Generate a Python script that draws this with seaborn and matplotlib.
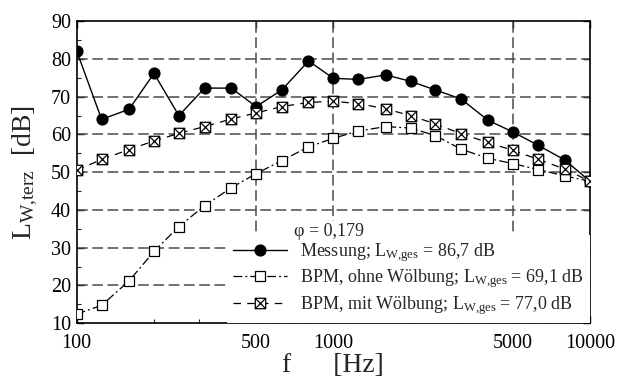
import numpy as np
import pandas as pd
import matplotlib
matplotlib.use("Agg")
import matplotlib.pyplot as plt
import seaborn as sns
from matplotlib.path import Path
from matplotlib.ticker import FixedLocator, NullFormatter, LogLocator

freq = [100, 125, 160, 200, 250, 315, 400, 500, 630, 800, 1000,
        1250, 1600, 2000, 2500, 3150, 4000, 5000, 6300, 8000, 10000]
messung = [82.1, 64.0, 66.7, 76.2, 65.0, 72.3, 72.3, 67.4, 71.8, 79.5, 74.9,
           74.6, 75.8, 74.1, 71.8, 69.4, 63.8, 60.7, 57.1, 53.2, 47.6]
bpm_ohne = [12.4, 14.7, 21.2, 29.0, 35.6, 41.1, 45.9, 49.6, 53.1, 56.7, 59.0,
            60.9, 62.1, 61.7, 59.7, 56.1, 53.7, 52.3, 50.7, 49.0, 47.6]
bpm_mit = [50.5, 53.4, 56.0, 58.3, 60.3, 62.1, 64.1, 65.7, 67.4, 68.5, 68.8,
           68.2, 66.8, 65.0, 62.8, 60.2, 57.9, 55.8, 53.4, 50.8, 47.6]

labels = [r"Messung; L$_{\mathregular{W{,}ges}}$ = 86,7 dB",
          r"BPM, ohne Wölbung; L$_{\mathregular{W{,}ges}}$ = 69,1 dB",
          r"BPM, mit Wölbung; L$_{\mathregular{W{,}ges}}$ = 77,0 dB"]
phi_text = "φ = 0,179"
xticks = [100, 500, 1000, 5000, 10000]
xticklabels = ["100", "500", "1000", "5000", "10000"]
yticks = [10, 20, 30, 40, 50, 60, 70, 80, 90]
xgrid = [500, 1000, 5000]

df = pd.DataFrame({"f": freq, "messung": messung, "ohne": bpm_ohne, "mit": bpm_mit})

sns.set_style("ticks")
plt.rcParams["font.family"] = ["Liberation Serif", "DejaVu Serif"]
plt.rcParams["mathtext.fontset"] = "custom"
plt.rcParams["mathtext.rm"] = "Liberation Serif"
plt.rcParams["mathtext.it"] = "Liberation Serif:italic"

fig = plt.figure(figsize=(6.19, 3.81), dpi=100)
ax = fig.add_axes([0.124, 0.152, 0.829, 0.792])

# crossed square marker
verts = [(-1, -1), (1, -1), (1, 1), (-1, 1), (-1, -1),
         (-1, -1), (1, 1), (-1, 1), (1, -1)]
codes = [Path.MOVETO, Path.LINETO, Path.LINETO, Path.LINETO, Path.CLOSEPOLY,
         Path.MOVETO, Path.LINETO, Path.MOVETO, Path.LINETO]
xsq = Path(verts, codes)

sns.lineplot(data=df, x="f", y="messung", ax=ax, color="black", lw=1.0,
             linestyle="-", marker="o", markersize=8, markerfacecolor="black",
             markeredgecolor="black", label=labels[0], zorder=3)
sns.lineplot(data=df, x="f", y="ohne", ax=ax, color="black", lw=0.9,
             linestyle=(0, (7, 2.5, 1.5, 2.5)), marker="s", markersize=7.5,
             markerfacecolor="white", markeredgecolor="black", markeredgewidth=0.9,
             label=labels[1], zorder=4)
sns.lineplot(data=df, x="f", y="mit", ax=ax, color="black", lw=0.9,
             linestyle=(0, (6, 5)), marker=xsq, markersize=7.5,
             markerfacecolor="white", markeredgecolor="black", markeredgewidth=0.9,
             label=labels[2], zorder=5)

ax.set_xscale("log")
ax.set_xlim(100, 10000)
ax.set_ylim(10, 90)

# grid
for yv in yticks[1:-1]:
    ax.axhline(yv, color="#4a4a4a", lw=1.1, linestyle=(0, (7, 3)), zorder=1)
for xv in xgrid:
    ax.axvline(xv, color="#4a4a4a", lw=1.1, linestyle=(0, (7, 3)), zorder=1)

ax.xaxis.set_major_locator(FixedLocator(xticks))
ax.set_xticklabels(xticklabels)
ax.xaxis.set_minor_locator(LogLocator(base=10, subs=np.arange(2, 10)))
ax.xaxis.set_minor_formatter(NullFormatter())
ax.set_yticks(yticks)
ax.set_yticks(np.arange(15, 90, 10), minor=True)

ax.tick_params(which="major", direction="in", length=5, width=1.0,
               labelsize=14.5, colors="black", right=True, top=True)
ax.tick_params(axis="x", which="major", pad=8)
ax.tick_params(axis="y", which="major", pad=4)
ax.tick_params(which="minor", direction="in", length=3, width=0.8,
               right=False, top=False)
for s in ax.spines.values():
    s.set_linewidth(1.2)
    s.set_color("black")
    s.set_visible(True)

ax.set_xlabel("f      [Hz]", fontsize=20, labelpad=0)
ax.set_ylabel(r"L$_{\mathregular{W{,}terz}}$  [dB]", fontsize=20, labelpad=8)

leg = ax.legend(loc="lower right", bbox_to_anchor=(1.0, 0.0), fontsize=13,
                frameon=True, fancybox=False, framealpha=1.0,
                handlelength=3.0, handletextpad=0.7, labelspacing=0.2,
                borderaxespad=0.0, borderpad=0.35)
leg.get_frame().set_facecolor("white")
leg.get_frame().set_edgecolor("none")
leg.set_zorder(6)

ax.text(0.423, 0.305, phi_text, transform=ax.transAxes, fontsize=13,
        ha="left", va="center", zorder=7,
        bbox=dict(facecolor="white", edgecolor="none", pad=1.0))

fig.savefig("out.png", dpi=100)
